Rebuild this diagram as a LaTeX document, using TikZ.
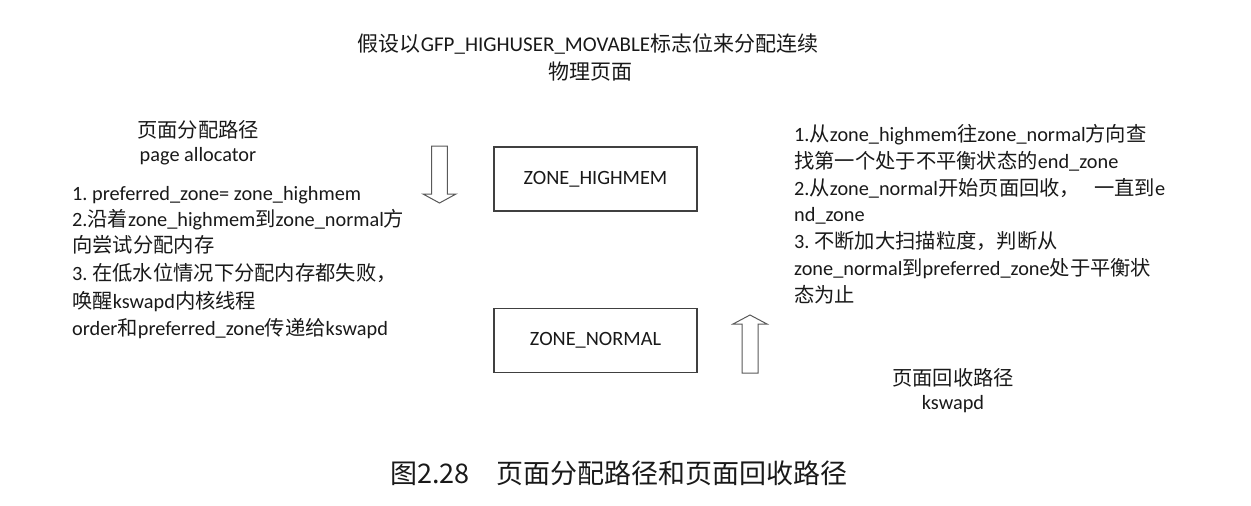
\documentclass[tikz,border=0pt]{standalone}
\usepackage{fontspec}
\setmainfont{Carlito}
\newfontfamily\cjkfont{Noto Sans CJK SC}
\newcommand\zh[1]{{\cjkfont #1}}
\frenchspacing
\begin{document}
\begin{tikzpicture}[x=1pt,y=-1pt,
  body/.style={inner sep=0pt, font=\fontsize{20.3}{27}\selectfont, text=black!90},
  line/.style={body, anchor=base west},
  ctr/.style={body, anchor=base},
  zonebox/.style={draw=black!75, line width=1.3pt, minimum width=203pt, minimum height=64pt, inner sep=0pt, font=\fontsize{20.3}{24}\selectfont, text=black!90},
  blockarrow/.style={draw=black!65, line width=1pt, fill=white, line join=miter}
]
\path[use as bounding box] (0,0) rectangle (1251,506);

% title
\node[ctr, font=\fontsize{21}{27}\selectfont] (t1) at (588,51) {\zh{假设以}GFP\_HIGHUSER\_MOVABLE\zh{标志位来分配连续}};
\node[ctr, font=\fontsize{21}{27}\selectfont] (t2) at (590,79) {\zh{物理页面}};

% left labels
\node[ctr] (la1) at (198,137) {\zh{页面分配路径}};
\node[ctr] (la2) at (198,161) {page allocator};

\node[line] (l1) at (72,200) {1. preferred\_zone= zone\_highmem};
\node[line] (l2) at (72,226) {2.\zh{沿着}zone\_highmem\zh{到}zone\_normal\zh{方}};
\node[line] (l3) at (72,252) {\zh{向尝试分配内存}};
\node[line] (l4) at (72,280) {3. \zh{在低水位情况下分配内存都失败，}};
\node[line] (l5) at (72,308) {\zh{唤醒}kswapd\zh{内核线程}};
\node[line] (l6) at (72,335) {order\zh{和}preferred\_zone\zh{传递给}kswapd};

% boxes
\node[zonebox] (hm) at (595.5,179) {ZONE\_HIGHMEM};
\node[zonebox] (nm) at (595.5,340.5) {ZONE\_NORMAL};

% block arrows
\draw[blockarrow] (431.7,146) -- (447.3,146) -- (447.3,194) -- (456,194) -- (439.5,203) -- (423,194) -- (431.7,194) -- cycle;
\draw[blockarrow] (742,373) -- (758,373) -- (758,324) -- (767,324) -- (750,315) -- (733,324) -- (742,324) -- cycle;

% right text
\node[line] (r1) at (794,141) {1.\zh{从}zone\_highmem\zh{往}zone\_normal\zh{方向查}};
\node[line] (r2) at (794,168) {\zh{找第一个处于不平衡状态的}end\_zone};
\node[line] (r3) at (794,195) {2.\zh{从}zone\_normal\zh{开始页面回收，}\hspace{14pt}\zh{一直到}e};
\node[line] (r4) at (794,221) {nd\_zone};
\node[line] (r5) at (794,248) {3. \zh{不断加大扫描粒度，判断从}};
\node[line] (r6) at (794,275) {zone\_normal\zh{到}preferred\_zone\zh{处于平衡状}};
\node[line] (r7) at (794,302) {\zh{态为止}};

\node[ctr] (ra1) at (953,385) {\zh{页面回收路径}};
\node[ctr] (ra2) at (953,409) {kswapd};

% caption
\node[ctr, font=\fontsize{27}{32}\selectfont\cjkfont] (cap) at (619,483) {图2.28　页面分配路径和页面回收路径};
\end{tikzpicture}
\end{document}
